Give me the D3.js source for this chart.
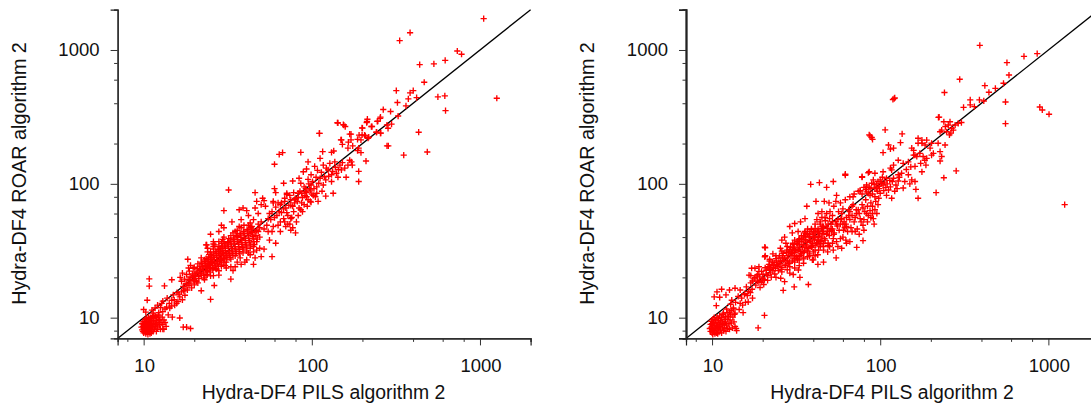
<!DOCTYPE html>
<html><head><meta charset="utf-8">
<script src="https://d3js.org/d3.v7.min.js"></script>
<style>
html,body{margin:0;padding:0;background:#fff}
svg{display:block}
text{font-family:"Liberation Sans",Arial,sans-serif;fill:#111}
</style></head><body><svg id="c" width="1091" height="406"></svg>
<script>
const xLabel = "Hydra-DF4 PILS algorithm 2";
const yLabel = "Hydra-DF4 ROAR algorithm 2";
const domain = [7, 2000];
const majorTicks = [10, 100, 1000];
const minorTicks = [8, 20, 40, 60, 80, 200, 400, 600, 800, 2000];

const leftOutliers = [[1052,1714],[384,1346],[333,1174],[733,983],[777,929],[621,837],[532,787],[438,778],[466,574],[318,497],[401,497],[384,478],[375,431],[420,441],[323,405],[562,446],[618,454],[1259,436],[624,352],[363,382],[266,359],[294,347],[326,321],[255,308],[247,294],[214,304],[212,287],[298,279],[284,260],[226,268],[199,262],[143,285],[154,277],[158,268],[111,238],[242,243],[257,239],[432,243],[285,192],[352,164],[486,173],[171,235],[199,232],[208,228],[218,223],[171,213],[150,213],[165,205]];
const leftUpper = [[142,286],[155,275],[111,238],[67,171],[64,166],[60,140],[86,172],[95,146],[116,174],[131,172],[135,176],[149,213],[168,235],[152,197],[164,185],[200,261],[213,292],[245,293],[256,315],[228,268],[280,275],[191,231],[206,231],[216,219],[196,213],[187,215],[243,243],[256,239],[280,192],[190,104],[160,112],[190,124],[210,148],[172,146],[168,150],[164,138],[174,138],[190,185],[187,177],[196,171],[175,192],[134,85],[109,74],[121,81],[68,101],[60,92],[61,86],[71,85],[77,105],[84,110],[86,101],[89,123],[93,129],[99,117],[104,135],[112,155],[117,138],[128,142],[137,146],[147,138],[150,127],[125,127],[131,117],[140,120],[131,104],[112,110],[119,113],[117,98],[107,95],[99,98],[98,90],[90,95],[87,85],[102,82],[93,80],[107,85],[83,79],[79,76],[87,72],[98,74],[75,69],[63,72],[59,74],[69,74],[101,104],[106,112],[110,101],[114,122],[121,107],[126,114],[133,124],[138,133],[144,128],[152,144],[157,131],[103,92],[96,100],[92,88],[95,108],[108,126],[122,131],[143,112],[115,88]];
const leftMiddle = [[32,90],[30,63],[46,86],[51,78],[47,74],[52,75],[39,66],[37,64],[41,63],[53,68],[50,70],[46,66],[56,60],[59,72],[65,70],[71,83],[75,76],[80,78],[83,85],[25,42],[23.5,35],[26,37],[26.5,35],[29,49],[28,44],[30,47],[33.5,52],[38,54],[42,58],[45,54],[48,60],[50,52],[55,55],[59,48],[65,52],[58,44],[65,44],[75,45],[80,43],[81,52],[69,52],[75,55],[56,38],[61,36],[52,32.5],[47,32],[58,28.6],[50,28.6],[46,28],[45,25],[62,58],[66,61],[70,66],[72,58],[78,62],[84,66],[90,70],[95,76],[100,84],[105,80],[68,65],[73,69],[79,72],[85,88],[92,92],[70,48],[74,50],[86,64],[91,82],[78,86],[64,62],[60,56],[54,49],[52,46],[58,62],[61,67],[66,72],[69,78],[74,82],[77,68],[82,74],[88,79],[93,86],[97,92],[71,61],[76,56],[83,58],[88,62],[94,68],[99,73],[63,49],[68,55],[72,50],[77,47],[57,54],[55,44],[48,50],[44,44],[49,47]];
const leftRibbon = [[16.8,18.7],[17.2,17.1],[17.6,16.4],[17.9,18],[18.2,16.1],[18.4,19.2],[18.6,17.4],[18.9,20.2],[19.1,18.1],[19.3,16.7],[19.5,21.2],[19.8,19.2],[20,17.6],[20.2,22],[20.4,20.4],[20.6,18.7],[20.9,23.3],[21.1,21.4],[21.3,19.6],[21.6,24.3],[21.8,22.6],[22,20.7],[22.2,25.4],[22.5,23.5],[22.7,21.6],[22.9,19.8],[23.1,26.4],[23.4,24.6],[23.6,22.6],[23.9,20.9],[24.1,27.1],[24.3,25.4],[24.6,23.6],[24.8,21.9],[25.1,28.1],[25.3,26.2],[25.6,24.5],[25.8,22.7],[26,29],[26.3,27.2],[26.5,25.3],[26.8,23.4],[27,30.2],[27.3,28.2],[27.5,26.2],[27.8,24.2],[28,31.4],[28.4,29.3],[28.6,27.1],[28.9,25.1],[29.2,33],[29.5,30.4],[29.8,28],[30,26],[30.3,34.3],[30.6,31.6],[30.9,29.1],[31.2,27],[31.5,35.5],[31.9,33],[32.2,30.3],[32.6,28.1],[32.9,37],[33.3,34.1],[33.6,31.4],[34,29.2],[34.4,38.5],[34.7,35.6],[35.1,32.6],[35.5,30.2],[36,40.2],[36.4,37],[36.8,33.9],[37.2,31.2],[37.7,41.5],[38.1,38.2],[38.5,35.2],[39,32.6],[39.5,42.8],[40,39.4],[40.4,36.4],[41,33.8],[41.5,44.5],[42,41],[42.5,37.6],[43.2,35],[43.8,46],[44.4,42.1],[45,38.8],[45.5,35.2],[23,27],[24.5,29.6],[21,25.2],[19.7,23.4],[27,23],[29,24.2],[31,26],[33,27.4],[35,29],[37,30],[39,30.5],[41,31.5],[43,33],[45,34],[18,21],[18.7,22.3],[16.5,20],[25,31],[28,34],[30,37],[33,41],[35,44],[38,47],[26,32.6],[24,31],[29.5,38.5],[22,28],[23.5,21],[26,20.6],[28,20.8],[31,23.5],[36,26],[37.5,28],[41,27],[43,29.5],[40,26],[47,37],[49,40],[47,45],[44,48],[42,49],[34,22.5],[33,19.4],[26.3,17.4],[25,13.7],[22,15.9],[18.3,27.3],[19,24.6],[23.7,35],[26,35.5],[29,36]];
const leftCore = [[17.5,19.4],[18.1,17.6],[18.8,18.9],[19.4,19.9],[19.9,20.6],[20.1,18.8],[20.7,21.6],[21.2,20.3],[21.5,22.9],[21.9,21.2],[22.3,24.1],[22.6,22.4],[22.8,20.6],[23.2,25.2],[23.3,23.4],[23.5,27.6],[23.8,24.2],[24,22.2],[24.2,26],[24.4,28.4],[24.7,24.9],[24.9,27],[25,23.2],[25.2,29.6],[25.5,27.3],[25.7,25.6],[25.9,23.6],[26.1,30.4],[26.2,28.2],[26.4,26.1],[26.6,24.4],[26.9,31.2],[27.1,29.2],[27.2,27.1],[27.4,25.1],[27.7,32.3],[27.9,30.2],[28.1,28],[28.3,26],[28.5,33.1],[28.7,31.1],[29,29],[29.1,26.7],[29.4,34.2],[29.6,32],[29.9,29.8],[30.1,27.6],[30.4,35.6],[30.7,33],[31,30.4],[31.3,28.4],[31.6,36.6],[31.8,34.2],[32.1,31.6],[32.4,29.4],[32.7,38],[33.1,35.4],[33.4,32.8],[33.8,30.3],[34.2,39.4],[34.5,36.8],[34.9,33.8],[35.3,31.4],[35.7,41.2],[36.1,38.2],[36.6,35.4],[37,32.4],[37.4,42.6],[37.9,39.6],[38.3,36.4],[38.8,33.6],[39.2,44],[39.7,40.8],[40.2,37.6],[40.7,34.8],[41.2,45.6],[41.8,42.4],[42.2,39],[42.8,36.2],[43.4,47],[44,43.4],[44.6,40.2],[45.2,37],[46,44],[46.6,41],[47.4,38.6],[48,44],[36,45],[34,43],[32,39],[30,40],[37,48],[39.5,49],[43,51],[28,37],[26,34],[24,33],[22,26],[20,23.8],[18.5,23.5],[17,21.5],[35,24],[38,25],[42,30.5],[45,31],[49,33],[33,24],[30.5,24.6],[28,22.4],[25,20.5],[23,19.2],[21,18.2]];
const leftLower = [[10.8,19.5],[10.8,17.2],[13.3,17.3],[14.7,19.2],[10.5,13.5],[10,11.5],[16.4,9.95],[14.8,10.1],[17.2,8.5],[18,8.5],[19,8.3],[13.6,8.6],[13,8.2],[12.4,9.6],[13.2,8.2],[13.8,14],[12.8,12.8],[14.7,13.5],[11.7,11.8],[13.7,12],[15.3,12.4],[16.4,14.3],[17.6,14.7],[11.4,10.8],[12.2,10.5],[13,11.1],[14.3,11.8],[14,10.5],[15.7,12.8],[12.1,12.4],[14.2,12.8],[15,14.8],[16,13.2],[16.8,15.6],[15.8,15.4],[17,13.6],[13,13.3],[11.8,10.2],[12.6,11.9],[11.2,11.4],[10.3,11],[15.2,13.6],[16.2,15],[14.6,12.2],[13.4,11.6],[12.3,10.9],[11.5,10.4],[17.3,15.9]];
const leftBlob = [[9.7,8.5],[9.8,8.1],[9.8,9],[9.9,8.6],[9.9,7.9],[9.9,9.3],[10,8.3],[10,8.9],[10,7.7],[10.1,9.4],[10.1,8.6],[10.1,8.1],[10.2,9],[10.2,7.8],[10.2,9.7],[10.3,8.4],[10.3,8.8],[10.3,7.6],[10.4,9.3],[10.4,8.1],[10.4,9.9],[10.5,8.6],[10.5,7.8],[10.5,9],[10.6,9.6],[10.6,8.3],[10.6,7.5],[10.7,8.9],[10.7,10.1],[10.7,7.9],[10.8,9.3],[10.8,8.5],[10.8,8.1],[10.9,9.8],[10.9,7.6],[10.9,8.8],[11,9],[11,8.2],[11,10],[11.1,8.6],[11.1,7.7],[11.1,9.5],[11.2,9],[11.2,8.1],[11.3,10.2],[11.3,8.5],[11.4,7.9],[11.4,9.3],[11.5,8.8],[11.5,9.8],[11.6,8.2],[11.7,9.1],[11.7,10.2],[11.8,8.6],[11.9,7.9],[11.9,9.5],[12,8.9],[12,10],[12.1,8.4],[12.2,9.2],[12.3,10.3],[12.4,8.8],[12.5,9.7],[12.6,8.2],[12.7,9.2],[12.9,10.1],[13,8.9],[13.2,9.6],[13.4,9.2]];

const rightOutliers = [[391,1083],[716,897],[858,939],[567,804],[583,650],[297,604],[419,542],[484,517],[443,483],[541,564],[241,481],[121,433],[119,427],[122,438],[556,409],[889,375],[920,356],[1009,331],[556,282],[343,424],[389,424],[413,416],[313,373],[343,389],[363,377],[304,287],[224,315],[1250,70],[87,228],[90,215],[86,232],[89,222],[107,253],[135,236],[132,203],[104,171],[112,195],[120,185],[115,182],[283,125],[239,111],[215,86],[163,91],[168,78],[62,116],[78,112]];
const rightUpper = [[222,314],[239,291],[260,291],[279,275],[232,252],[248,245],[266,260],[291,283],[263,239],[272,252],[254,275],[227,245],[244,268],[258,232],[154,185],[158,178],[161,164],[168,219],[177,201],[189,212],[202,201],[221,201],[243,195],[177,212],[168,201],[185,195],[198,185],[158,164],[165,160],[172,169],[180,160],[189,155],[202,164],[227,174],[232,160],[207,169],[227,148],[187,138],[177,123],[161,135],[147,146],[137,142],[128,150],[120,138],[115,131],[86,123],[93,120],[104,123],[117,127],[91,107],[100,107],[109,110],[120,110],[128,117],[134,120],[147,117],[154,107],[140,104],[83,98],[89,101],[76,89],[82,91],[69,80],[95,93],[104,98],[115,95],[124,98],[137,93],[150,100],[161,104],[100,85],[109,82],[117,78],[93,80],[85,85],[96,88],[112,90],[106,103],[118,104],[128,105],[98,96],[122,88],[110,100],[130,112],[143,128],[152,134],[174,142],[184,150],[83,87],[88,92],[92,99],[97,104],[102,101],[108,94],[114,106],[103,112],[95,100],[78,84],[80,94],[99,92],[105,89],[126,92],[90,84],[86,94]];
const rightMiddle = [[62,118],[78,113],[85,121],[38.6,99],[43.5,102],[48,94],[52.6,104],[76,89],[55,82],[54.5,74],[41.5,74],[46.5,74],[49.6,72],[36.6,68],[50.3,62],[45,62],[42.7,60],[35.7,55],[33.6,52],[31,50.5],[29,48],[30,43],[32.5,44],[27,40],[26,38],[35.7,44],[20.7,33.3],[20.7,29],[22,27.3],[72.5,33.5],[54.7,28],[66,37],[62.5,38],[79,37.6],[58,39],[52.6,39],[68,44],[73,46],[79,49],[91,55],[95.5,60],[63,48],[60.5,45],[66,54],[72.5,60],[79,66],[88,72],[76,55],[83,60],[93,64],[56.5,62],[59,55],[66,62],[62.5,50],[69,70],[87,82],[93,93],[83,95],[98,78],[40,27],[42.6,25],[46,32],[48.7,31],[52.6,32],[46,26],[38,29],[35,28],[32.3,27],[29.6,31],[31,32],[33,35],[37,42],[39,46],[41,50],[44,52],[47,56],[50,55],[53,68],[58,72],[62,76],[66,80],[70,84],[74,88],[78,70],[82,76],[72,64],[68,68],[85,58],[90,60],[70,52],[75,60],[80,54],[65,58],[60,65],[55,50],[51,46],[48,42],[45,40],[42,36],[39,34],[37,31],[34,30],[36,38],[40,40],[43,44],[46,48],[49,36],[53,42],[56,34],[60,40],[64,44],[58,50],[68,58],[71,56],[74,64],[77,52],[81,62],[84,68],[87,63],[90,68],[94,74],[97,70],[63,56],[59,60],[56,54],[52,52],[49,50],[61,52],[65,64],[67,47],[71,44],[75,42],[80,45],[84,52],[88,56],[92,50],[52,58],[48,60],[45,56],[42,54],[50,44],[47,38],[44,35],[55,37],[59,33],[63,36],[50,34],[46,44],[41,43],[38,40],[35,35],[32,32],[43,38]];
const rightRibbon = [[17.2,23.4],[18,23.4],[16.6,20.8],[20.6,33.6],[20.6,28.5],[26.5,16],[30.8,17],[37.4,17.7],[25.6,19.7],[29,21.5],[27,18.6],[33.3,20],[30.4,21],[32.6,22.7],[15.6,15.1],[16,17],[16.5,15.7],[17,18.2],[17.3,16.3],[17.8,19.5],[18.2,17.5],[18.7,21],[19,18.6],[19.3,16.8],[19.7,22.2],[20,19.7],[20.3,17.7],[20.7,23.6],[21,21.1],[21.4,19],[21.8,25],[22.1,22.6],[22.5,20.1],[22.9,26],[23.2,23.7],[23.6,21.2],[24,27.6],[24.4,25],[24.8,22.5],[25.2,29.1],[25.6,26.3],[26,23.8],[26.5,30.3],[27,27.5],[27.4,24.8],[27.9,32],[28.3,29],[28.8,26],[29.3,33.6],[29.8,30.3],[30.3,27.5],[30.8,35.1],[31.3,31.8],[31.9,28.6],[32.4,37],[33,33.2],[33.6,30],[34.2,38.4],[34.8,35],[35.4,31.5],[36,40.2],[36.7,36.4],[37.3,33],[38,42],[38.7,38],[39.4,34.5],[40.2,43.8],[41,39.8],[41.8,36],[42.7,46],[43.5,41.5],[44.4,37.6],[45.3,48],[24,20],[26,22],[29,24],[31,26],[33,27],[28,34],[31,38],[34,41],[37,46],[22,26.5],[19,24],[23,30],[25.5,33],[27.5,36],[35,27.5],[38,30],[41,32],[44,34],[46,36],[39.5,27],[42.5,29.5],[30,32],[32,36],[35.5,43],[25,25.5],[21.5,24],[18.5,20.5],[23.3,24.5],[26.3,28],[28.6,31],[33.2,39],[36.2,42.5],[39,45.5]];
const rightCore = [[17.4,18.8],[18,20],[18.6,18.8],[19.2,20.2],[19.6,18.4],[20.1,21],[20.5,19.2],[21,22.6],[21.4,20.7],[21.9,23.5],[22.2,21.6],[22.7,24.6],[23,22.4],[23.4,25.8],[23.8,23.4],[24.2,26.6],[24.6,24.2],[25,28],[25.4,25.4],[25.8,23],[26.2,29],[26.7,26.8],[27.2,24.6],[27.7,30.8],[28.1,28],[28.6,25.4],[29,32.4],[29.5,29.4],[30,26.6],[30.5,33.8],[31,30.8],[31.6,27.8],[32.1,35.4],[32.7,32.2],[33.3,29],[33.9,37],[34.5,33.6],[35.1,30.6],[35.7,38.4],[36.4,35],[37,32],[37.7,40.6],[38.4,37],[39.1,33.6],[39.8,42.2],[40.6,38.6],[41.4,35],[42.2,44.4],[43,40.6],[43.9,37],[44.8,46.4],[45.7,42.6],[46.7,39],[47.7,48],[48.7,44.2],[49.8,41],[51,50],[52,46],[53.2,43],[54.4,52.4],[55.6,48.4],[57,45],[58.4,54.6],[60,50],[61.5,47],[30.2,36],[32.8,38.4],[35,40],[38.2,44],[41,46.5],[44,50],[47.2,53],[26,31.4],[24,29],[28,26.5],[31,29],[33.6,31.2],[36.2,33.8],[39.6,36],[42.6,38],[45.6,44],[48.4,46.6],[51.4,44.6],[22,23],[20,19],[19,22.2],[17,20.6],[37,28.5],[40,31],[43,32],[46,34],[49,34.6],[52,36],[35,25.5],[33,24.5],[31,23.5],[41,29],[28,22.8]];
const rightLower = [[20.5,10.4],[18.8,8.4],[10.3,14.3],[11.1,14.2],[12.1,14.8],[10.7,15.6],[11.4,16.3],[12.7,16.1],[13.7,16.6],[14.7,16.1],[10.6,12.3],[13.9,8.3],[15.3,10.9],[14.7,12.8],[13.4,11.8],[12.5,10.2],[11.7,10.8],[13.1,13.5],[13.8,13],[14.3,14.4],[15,14],[15.8,13],[14.5,11.5],[13.6,10.6],[12.2,11.6],[12.9,12.6],[14,8],[13.7,8.6],[16.2,14.6],[16.9,15.4],[17.4,14],[15.6,14.9],[16.4,13.1],[15.2,12.4]];
const rightBlob = [[9.7,8.3],[9.8,8.9],[9.8,7.9],[9.9,9.4],[9.9,8.5],[10,7.7],[10,9],[10,8.2],[10.1,9.7],[10.1,8.7],[10.1,7.5],[10.2,9.2],[10.2,8],[10.3,8.5],[10.3,10],[10.3,7.8],[10.4,9.1],[10.4,7.6],[10.5,8.3],[10.5,9.6],[10.6,8.8],[10.6,7.7],[10.7,10.1],[10.7,9.2],[10.7,8.1],[10.8,8.6],[10.8,7.6],[10.9,9.8],[10.9,8.3],[11,9.1],[11,7.8],[11.1,10.3],[11.1,8.6],[11.2,9.5],[11.2,8.1],[11.3,8.9],[11.4,10],[11.4,7.7],[11.5,9.3],[11.5,8.4],[11.6,10.6],[11.6,8.8],[11.7,8],[11.8,9.7],[11.8,9],[11.9,8.4],[12,10.2],[12,9.3],[12.1,7.9],[12.2,8.8],[12.3,10.9],[12.3,9.7],[12.4,8.3],[12.5,10.2],[12.6,9],[12.7,11],[12.7,8.2],[12.8,9.6],[12.9,10.5],[13,9.1],[13,11.3],[13.2,8.4],[13.3,10.1],[13.4,11.6],[13.5,9.3],[13.7,10.8]];

const leftPoints = [...leftOutliers, ...leftUpper, ...leftMiddle, ...leftRibbon, ...leftCore, ...leftLower, ...leftBlob];
const rightPoints = [...rightOutliers, ...rightUpper, ...rightMiddle, ...rightRibbon, ...rightCore, ...rightLower, ...rightBlob];

const svg = d3.select("#c");
const y = d3.scaleLog().domain(domain).range([338.4, 9.7]);

function panel(x0, points, yLabelX, labelRight, axisWidth) {
  const x = d3.scaleLog().domain(domain).range([x0, x0 + 413]);
  const g = svg.append("g");

  g.append("line")
    .attr("x1", x(domain[0])).attr("y1", y(domain[0]))
    .attr("x2", x(domain[1])).attr("y2", y(domain[1]))
    .attr("stroke", "#000").attr("stroke-width", 1.3);

  g.append("g").selectAll("path").data(points).join("path")
    .attr("d", d => {
      const px = x(d[0]), py = y(d[1]), r = 3.1;
      return `M${px - r},${py}H${px + r}M${px},${py - r}V${py + r}`;
    })
    .attr("fill", "none").attr("stroke", "#f00").attr("stroke-width", 1.35);

  const axB = g.append("g").attr("transform", `translate(0,${y(domain[0])})`);
  axB.call(d3.axisBottom(x).tickValues(majorTicks).tickSize(7).tickFormat(""));
  axB.append("g").call(d3.axisBottom(x).tickValues(minorTicks).tickSize(3.5).tickFormat(""));
  const axL = g.append("g").attr("transform", `translate(${x0},0)`);
  axL.call(d3.axisLeft(y).tickValues(majorTicks).tickSize(7).tickFormat(""));
  axL.append("g").call(d3.axisLeft(y).tickValues(minorTicks).tickSize(3.5).tickFormat(""));

  g.selectAll(".domain").attr("stroke", "#222").attr("stroke-width", axisWidth);
  axB.selectAll(".domain").attr("stroke-width", 1.2);
  g.selectAll(".tick line").attr("stroke", "#333").attr("stroke-width", 1);

  g.selectAll(".xt").data(majorTicks).join("text").attr("class", "xt")
    .attr("x", d => x(d) + 1).attr("y", 372)
    .attr("text-anchor", "middle").attr("font-size", 18.5).text(d => d);
  g.selectAll(".yt").data(majorTicks).join("text").attr("class", "yt")
    .attr("x", labelRight).attr("y", d => y(d) + 6.5)
    .attr("text-anchor", "end").attr("font-size", 18.5).text(d => d);
  g.append("text").attr("x", x0 + 206).attr("y", 399)
    .attr("text-anchor", "middle").attr("font-size", 19.4).text(xLabel);
  g.append("text").attr("transform", `translate(${yLabelX},173.5) rotate(-90)`)
    .attr("text-anchor", "middle").attr("font-size", 19.8).text(yLabel);
}

panel(117.6, leftPoints, 26, 99.5, 1.2);
panel(686, rightPoints, 594, 668, 1.8);
</script></body></html>
